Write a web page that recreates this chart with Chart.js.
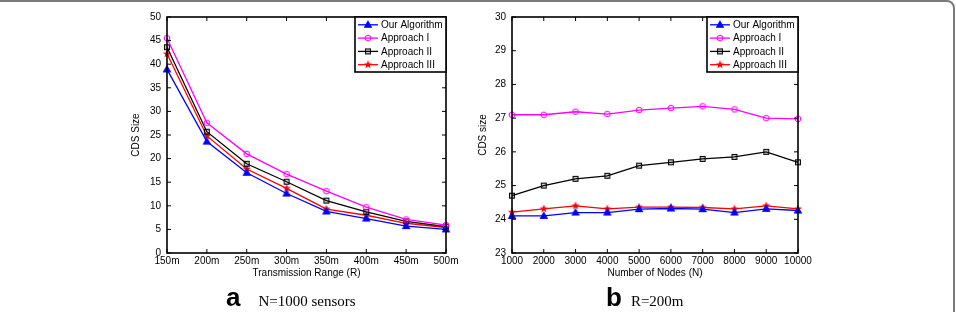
<!DOCTYPE html>
<html>
<head>
<meta charset="utf-8">
<script src="https://cdn.jsdelivr.net/npm/chart.js@4.4.0/dist/chart.umd.min.js"></script>
<style>
  body { margin: 0; background: #fff; width: 956px; height: 312px; overflow: hidden; position: relative; font-family: "Liberation Sans", Arial, sans-serif; }
  #frame { position: absolute; left: -20px; top: 0; width: 975px; height: 340px; border: 2px solid #7a7a7a; border-radius: 8px; box-sizing: border-box; }
  canvas { position: absolute; top: 0; }
  #chartA { left: 120px; }
  #chartB { left: 474px; }
  .cap { position: absolute; top: 282px; white-space: nowrap; line-height: 26px; }
  .cap b { font: bold 26px "Liberation Sans", Arial, sans-serif; }
  .cap span { font: 15px "Liberation Serif", "Times New Roman", serif; }
</style>
</head>
<body>
<div id="frame"></div>
<canvas id="chartA" width="358" height="290"></canvas>
<canvas id="chartB" width="356" height="290"></canvas>
<div class="cap" style="left:226px"><b>a</b><span style="margin-left:18px">N=1000 sensors</span></div>
<div class="cap" style="left:606px"><b>b</b><span style="margin-left:9px">R=200m</span></div>

<script>
// chart a: CDS size vs transmission range, N=1000
var rangeLabels = ['150m', '200m', '250m', '300m', '350m', '400m', '450m', '500m'];
var ourAlgoA  = [38.9, 23.6, 17.0, 12.6, 8.8, 7.3, 5.7, 5.0];
var approach1A = [45.5, 27.6, 21.0, 16.7, 13.1, 9.7, 7.1, 5.9];
var approach2A = [43.6, 25.7, 18.9, 15.1, 11.1, 8.7, 6.7, 5.6];
var approach3A = [42.2, 24.8, 17.8, 13.7, 9.3, 8.0, 6.3, 5.4];

// chart b: CDS size vs number of nodes, R=200m
var nodeLabels = ['1000', '2000', '3000', '4000', '5000', '6000', '7000', '8000', '9000', '10000'];
var ourAlgoB  = [24.10, 24.10, 24.20, 24.20, 24.30, 24.32, 24.30, 24.20, 24.31, 24.26];
var approach1B = [27.10, 27.10, 27.19, 27.12, 27.24, 27.30, 27.35, 27.26, 27.00, 26.98];
var approach2B = [24.70, 25.00, 25.20, 25.29, 25.59, 25.69, 25.79, 25.85, 26.00, 25.69];
var approach3B = [24.21, 24.31, 24.40, 24.31, 24.36, 24.36, 24.35, 24.31, 24.40, 24.31];

var seriesNames = ['Our Algorithm', 'Approach I', 'Approach II', 'Approach III'];

Chart.defaults.font.family = '"Liberation Sans", Arial, Helvetica, sans-serif';
Chart.defaults.color = '#000';

// matlab style markers as little canvases
function makeMarker(shape, color) {
  var c = document.createElement('canvas');
  c.width = 12; c.height = 12;
  var g = c.getContext('2d');
  g.translate(6, 6);
  g.strokeStyle = color; g.fillStyle = color; g.lineWidth = 1.1;
  g.beginPath();
  if (shape == 'triangle') {
    g.moveTo(0, -3.6); g.lineTo(3.4, 2.5); g.lineTo(-3.4, 2.5); g.closePath();
    g.fill(); g.stroke();
  } else if (shape == 'circle') {
    g.arc(0, 0, 2.8, 0, Math.PI * 2); g.stroke();
  } else if (shape == 'square') {
    g.rect(-2.4, -2.4, 4.8, 4.8); g.stroke();
  } else {
    for (var k = 0; k < 10; k++) {
      var r = k % 2 ? 1.8 : 4.4;
      var ang = -Math.PI / 2 + k * Math.PI / 5;
      g.lineTo(r * Math.cos(ang), r * Math.sin(ang));
    }
    g.closePath(); g.fill();
  }
  return c;
}

var colors = ['#0000ff', '#ff00ff', '#000000', '#ff0000'];
var markers = [
  makeMarker('triangle', colors[0]),
  makeMarker('circle', colors[1]),
  makeMarker('square', colors[2]),
  makeMarker('star', colors[3])
];

// box, inner ticks and legend like matlab
var matlabBox = {
  id: 'matlabBox',
  afterDatasetsDraw: function(chart) {
    var ctx = chart.ctx, a = chart.chartArea, sx = chart.scales.x, sy = chart.scales.y;
    ctx.save();
    ctx.strokeStyle = '#000';
    ctx.lineWidth = 1;
    ctx.beginPath();
    sx.ticks.forEach(function(t, i) {
      var x = sx.getPixelForTick(i);
      ctx.moveTo(x, a.bottom); ctx.lineTo(x, a.bottom - 4);
      ctx.moveTo(x, a.top); ctx.lineTo(x, a.top + 4);
    });
    sy.ticks.forEach(function(t, i) {
      var y = sy.getPixelForTick(i);
      ctx.moveTo(a.left, y); ctx.lineTo(a.left + 4, y);
      ctx.moveTo(a.right, y); ctx.lineTo(a.right - 4, y);
    });
    ctx.stroke();
    ctx.lineWidth = 1.6;
    ctx.strokeRect(a.left, a.top, a.right - a.left, a.bottom - a.top);

    // legend
    var w = 91, h = 55;
    var lx = a.right - w, ly = a.top;
    ctx.fillStyle = '#fff';
    ctx.fillRect(lx, ly, w, h);
    ctx.strokeRect(lx, ly, w, h);
    ctx.font = '10px "Liberation Sans", Arial, sans-serif';
    ctx.textBaseline = 'middle';
    chart.data.datasets.forEach(function(ds, i) {
      var y = ly + 7.8 + i * 13.3;
      ctx.strokeStyle = ds.borderColor;
      ctx.lineWidth = 1.3;
      ctx.beginPath(); ctx.moveTo(lx + 3, y); ctx.lineTo(lx + 23, y); ctx.stroke();
      ctx.drawImage(ds.pointStyle, lx + 13 - 6, y - 6);
      ctx.fillStyle = '#000';
      ctx.fillText(ds.label, lx + 26, y + 0.5);
    });
    ctx.restore();
  }
};

function makeChart(id, labels, data, yMin, yMax, yStep, xTitle, yTitle, yWidth, yTitlePad) {
  var datasets = data.map(function(d, i) {
    return {
      label: seriesNames[i],
      data: d,
      borderColor: colors[i],
      backgroundColor: colors[i],
      borderWidth: 1.3,
      pointStyle: markers[i],
      pointRadius: 4,
      tension: 0,
      fill: false,
      clip: false
    };
  });
  return new Chart(document.getElementById(id), {
    type: 'line',
    data: { labels: labels, datasets: datasets },
    plugins: [matlabBox],
    options: {
      responsive: false,
      animation: false,
      layout: { padding: { top: 17, right: 32, left: 0, bottom: 0 } },
      plugins: { legend: { display: false }, tooltip: { enabled: false } },
      scales: {
        x: {
          type: 'category',
          offset: false,
          grid: { display: false, drawTicks: false },
          border: { display: false },
          ticks: { font: { size: 10 }, color: '#000', padding: 2, maxRotation: 0, autoSkip: false },
          title: { display: true, text: xTitle, font: { size: 10 }, color: '#000', padding: { top: 0, bottom: 11 } },
          afterFit: function(s) { s.height = 37; }
        },
        y: {
          min: yMin, max: yMax,
          grid: { display: false, drawTicks: false },
          border: { display: false },
          ticks: { stepSize: yStep, font: { size: 10 }, color: '#000', padding: 6 },
          title: { display: true, text: yTitle, font: { size: 10 }, color: '#000', padding: { top: yTitlePad, bottom: 0 } },
          afterFit: function(s) { s.width = yWidth; }
        }
      }
    }
  });
}

makeChart('chartA', rangeLabels, [ourAlgoA, approach1A, approach2A, approach3A],
  0, 50, 5, 'Transmission Range (R)', 'CDS Size', 47, 10);
makeChart('chartB', nodeLabels, [ourAlgoB, approach1B, approach2B, approach3B],
  23, 30, 1, 'Number of Nodes (N)', 'CDS size', 38, 3);
</script>
</body>
</html>
